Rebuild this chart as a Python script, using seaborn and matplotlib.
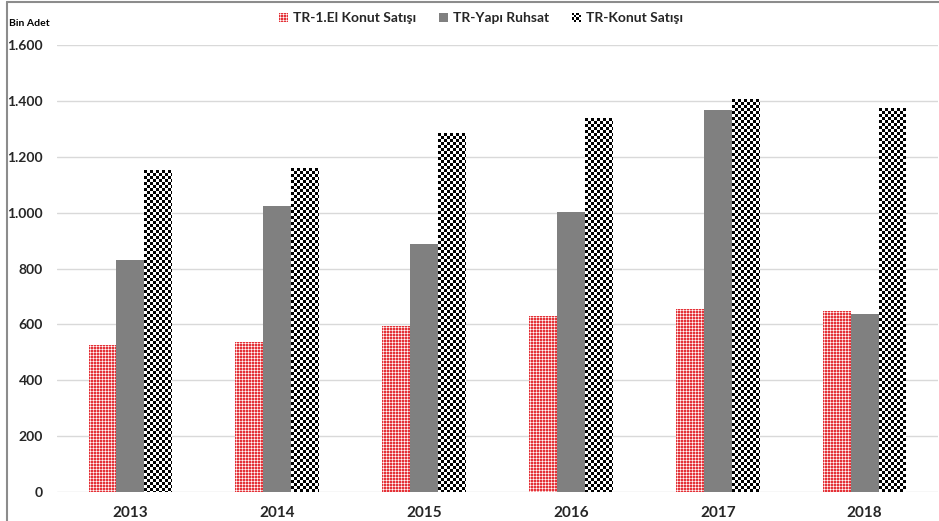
import numpy as np
import pandas as pd
import matplotlib
matplotlib.use("Agg")
import matplotlib.pyplot as plt
import seaborn as sns
from matplotlib.ticker import FuncFormatter, FixedLocator
from matplotlib.legend_handler import HandlerBase
from matplotlib.image import BboxImage
from matplotlib.transforms import Bbox, TransformedBbox
from matplotlib.patches import Patch
from matplotlib.lines import Line2D

# Housing data (thousand units)
years = ["2013", "2014", "2015", "2016", "2017", "2018"]
series = ["TR-1.El Konut Satışı", "TR-Yapı Ruhsat", "TR-Konut Satışı"]
first_hand_sales = [526, 537, 594, 630, 655, 648]
building_permits = [830, 1024, 888, 1002, 1367, 637]
total_sales = [1152, 1160, 1285, 1339, 1407, 1374]
y_ticks = [0, 200, 400, 600, 800, 1000, 1200, 1400, 1600]
y_label = "Bin Adet"

df = pd.DataFrame({
    "year": years * 3,
    "series": [series[0]] * 6 + [series[1]] * 6 + [series[2]] * 6,
    "value": first_hand_sales + building_permits + total_sales,
})

sns.set_theme(style="white")
plt.rcParams["font.family"] = ["Lato", "DejaVu Sans"]
plt.rcParams["font.weight"] = "bold"

W, H, DPI = 939, 521, 100
fig = plt.figure(figsize=(W / DPI, H / DPI), dpi=DPI)
ax = fig.add_axes([57 / W, 29 / H, 881 / W, 447 / H])

RED = np.array([228, 50, 56]) / 255
PINK = np.array([244, 172, 174]) / 255
GRAY = "#808080"
WHITE = np.array([1.0, 1.0, 1.0])
BLACK = np.array([0.0, 0.0, 0.0])

# Pattern tiles: a fine red plaid and a coarse black/white checkerboard
red_tile = np.array([[RED, PINK, RED],
                     [PINK, WHITE, PINK],
                     [RED, PINK, RED]])
chk_tile = np.zeros((6, 6, 3))
for r in range(6):
    for c in range(6):
        chk_tile[r, c] = BLACK if ((r // 3) + (c // 3)) % 2 == 0 else WHITE

sns.barplot(data=df, x="year", y="value", hue="series", hue_order=series,
            palette=[RED, GRAY, "black"], width=0.57, gap=0, saturation=1,
            legend=False, ax=ax, linewidth=0)

ax.set_ylim(0, 1600)
ax.set_xlim(-0.5, 5.5)


def texture(h, w, tile):
    th, tw = tile.shape[:2]
    reps = (h // th + 1, w // tw + 1, 1)
    return np.tile(tile, reps)[:h, :w]


# Textured fills for the patterned series, placed pixel-for-pixel over each bar
textures = {0: red_tile, 2: chk_tile}
to_px = ax.transData
for idx, tile in textures.items():
    for bar in ax.containers[idx]:
        x0, w, h = bar.get_x(), bar.get_width(), bar.get_height()
        (px0, py0), (px1, py1) = to_px.transform([(x0, 0), (x0 + w, h)])
        px0, px1, py0, py1 = (int(round(v)) for v in (px0, px1, py0, py1))
        img = texture(py1 - py0, px1 - px0, tile)
        fig.figimage(img, xo=px0, yo=py0, origin="upper", zorder=2)
        bar.set_facecolor("none")

# Axes styling
for s in ax.spines.values():
    s.set_visible(False)
ax.yaxis.set_major_locator(FixedLocator(y_ticks))
ax.yaxis.set_major_formatter(FuncFormatter(lambda v, p: f"{v:,.0f}".replace(",", ".")))
ax.grid(axis="y", color="#d9d9d9", linewidth=1)
ax.set_axisbelow(True)
ax.tick_params(axis="y", length=0, pad=10, labelsize=10)
ax.tick_params(axis="x", length=0, pad=10, labelsize=11)
for lbl in ax.get_xticklabels() + ax.get_yticklabels():
    lbl.set_fontweight("bold")
ax.set_xlabel("")
ax.set_ylabel("")

fig.text(9 / W, 1 - 24 / H, y_label, fontsize=7.5, fontweight="bold",
         ha="left", va="center", color="black")


# Legend with textured swatches
class HandlerTexture(HandlerBase):
    def __init__(self, arr):
        super().__init__()
        self.arr = arr

    def create_artists(self, legend, orig_handle, xdescent, ydescent, width,
                       height, fontsize, trans):
        bb = Bbox.from_bounds(-xdescent, -ydescent, width, height)
        im = BboxImage(TransformedBbox(bb, trans), interpolation="nearest")
        im.set_data(self.arr)
        return [im]


h_red = Patch(facecolor=RED)
h_gray = Patch(facecolor=GRAY, edgecolor="none")
h_chk = Patch(facecolor="black")
fig.legend([h_red, h_gray, h_chk], series, loc="center",
           bbox_to_anchor=(481 / W, 1 - 18 / H), ncol=3, frameon=False,
           prop={"weight": "bold", "size": 10},
           handlelength=0.6, handleheight=0.6, handletextpad=0.35,
           columnspacing=1.7,
           handler_map={h_red: HandlerTexture(texture(9, 9, red_tile)),
                        h_chk: HandlerTexture(texture(8, 8, np.kron(chk_tile[::3, ::3], np.ones((2, 2, 1)))))})

# Chart frame
fig.add_artist(Line2D([7 / W, 7 / W], [0, 1 - 2 / H], transform=fig.transFigure,
                      color="#8c8c8c", linewidth=1.5))
fig.add_artist(Line2D([7 / W, 1], [1 - 2 / H, 1 - 2 / H], transform=fig.transFigure,
                      color="#8c8c8c", linewidth=1.5))

fig.savefig("out.png", dpi=DPI)
